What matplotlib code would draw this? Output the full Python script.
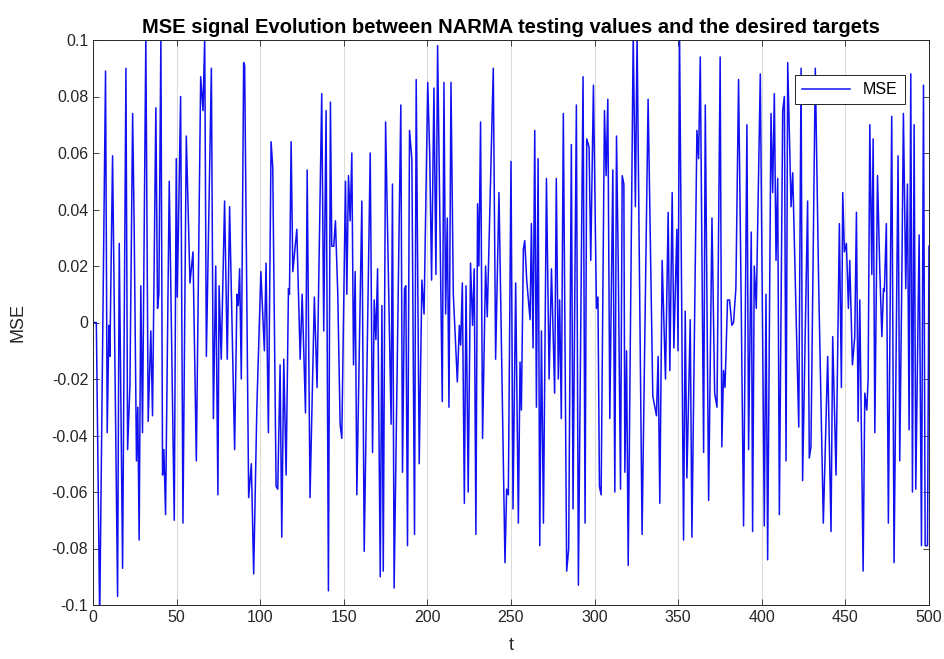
import matplotlib
matplotlib.use("Agg")
import matplotlib.pyplot as plt
import numpy as np

plt.rcParams['font.family'] = ['Liberation Sans', 'DejaVu Sans']

# turning points of the MSE signal (t, value)
t = [0, 2, 4, 7.5, 8.5, 9.5, 10.1, 11.7, 14.7, 15.7, 17.7, 19.7, 20.7, 22.1, 23.7, 24.6, 26, 26.8, 27.6,
     28.6, 29.6, 31.6, 33, 34.6, 35.6, 37.6, 38.6, 39.4, 40.6, 41.6, 42.4, 43.4, 45.6, 48.6, 49.8, 50.4, 52.4,
     53.8, 55.8, 58, 59.8, 61.8, 64.4, 65.8, 66.8, 67.8, 70.8, 72, 73.4, 74.7, 75.4, 76.7, 78.7, 80.3, 81.7,
     84.7, 86.1, 86.9, 87.7, 88.7, 90.1, 90.7, 93.1, 94.7, 96.1, 98, 100.4,
     102.5, 103.5, 104.9, 106.5, 107.5, 109.5, 110.5, 111.9, 112.9, 114.1, 115.5, 116.9, 117.5, 118.5, 119.5,
     121.9, 123.9, 125.1, 127.1, 128.1, 129.8, 132.4, 134, 136.8, 138, 139.4, 140.8, 142, 142.8, 144, 145,
     146.4, 147.8, 148.8, 151,
     151.8, 152.8, 153.8, 154.8, 155.8, 156.8, 157.8, 160.8, 162.2, 165.8, 167.2, 168.2, 169.2, 170.2, 171.8,
     172.8, 173.6, 175, 178.3, 179.1, 180.1, 184.1, 185.1, 186.3, 187.1, 188.1, 189.3, 190.7, 192.3, 193.3,
     195.1, 196.7, 198, 200.2, 201.4,
     202.5, 203.9, 205.1, 206.1, 208.9, 209.9, 210.9, 211.9, 212.9, 214.1, 215.5, 217.9, 219.1, 219.9, 220.9,
     222.1, 223.1, 224.4, 225.8, 227, 228, 229, 230, 230.8, 231.8, 233, 234.8, 235.8, 239.4, 240.8, 242.8,
     246.4, 247.4, 248.4, 250, 251.2,
     252.8, 254.4, 255.4, 256.2, 257.4, 258.2, 259.4, 261.4, 262.2, 263.2, 264.2, 265.2, 266.2, 267.2, 268.2,
     269.4, 271.2, 272.8, 274.2, 276.1, 277.1, 278.3, 279.1, 280.1, 281.3, 283.3, 284.5, 286.1, 287.1, 289.1,
     290.3, 293.1, 294.3, 295.3, 296.7, 297.7, 299.3, 301.1,
     302, 302.9, 303.9, 305.9, 306.9, 307.9, 309.1, 310.9, 312.1, 313.1, 314.1, 315.5, 316.5, 317.5, 318.1,
     319.1, 320.1, 323.1, 324.4, 325.4, 328.4, 332, 334.8, 337, 338, 339, 340.4, 342.4, 344, 345, 346.4,
     347.4, 349.2, 349.9, 350.8,
     353.2, 354.2, 355.2, 357.2, 358.2, 361.2, 362.2, 363.2, 365.2, 366.2, 368.2, 370.2, 371.8, 373.2, 375.1,
     376.1, 377.1, 378, 379.5, 380.7, 382.1, 383.1, 384.5, 386.1, 387.7, 389.1, 391.1, 392.1, 393.7, 394.5,
     395.5, 396.7, 399.1,
     401.5, 402.5, 403.5, 405.5, 406.5, 407.5, 408.5, 409.5, 410.5, 412.5, 413.5, 414.5, 415.5, 417.5, 418.5,
     422.1, 423.5, 424.4, 427.4, 428.4, 429.4, 432, 434, 436.8, 439.4, 441.4, 442.4, 444.4, 446.4, 447.6,
     448.4, 449.4,
     450.6, 451.8, 452.6, 454.2, 455.6, 456.6, 457.6, 458.6, 460.6, 461.6, 462.8, 463.6, 464.6, 465.8, 466.6,
     467.6, 469.2, 470.6, 471.8, 472.8, 473.3, 474.5, 475.7, 477.7, 479.1, 481.5, 482.5, 483.7, 484.7, 486.1,
     487.1, 488.1, 489.1, 490.1, 491.1, 492.1, 494.1, 495.5, 496.7, 497.7, 499.1, 500]

mse = [0.0, 0.0, -0.105, 0.089, -0.039, -0.001, -0.012, 0.059, -0.097, 0.028, -0.087, 0.09, -0.045, -0.022,
       0.074, 0.035, -0.049, -0.03, -0.077,
       0.013, -0.039, 0.101, -0.035, -0.003, -0.033, 0.076, 0.005, 0.01, 0.101, -0.054, -0.045, -0.068, 0.05,
       -0.07, 0.058, 0.009, 0.08,
       -0.071, 0.066, 0.014, 0.025, -0.049, 0.087, 0.075, 0.101, -0.012, 0.09, -0.034, 0.02, -0.061, 0.013,
       -0.013, 0.043, -0.013, 0.041,
       -0.045, 0.01, 0.006, 0.019, -0.02, 0.092, 0.091, -0.062, -0.05, -0.089, -0.03, 0.018,
       -0.01, 0.021, -0.039, 0.064, 0.055, -0.058, -0.059, -0.015, -0.076, -0.013, -0.054, 0.012, 0.01, 0.064,
       0.018, 0.033, -0.013, 0.01, -0.032, 0.054, -0.062, 0.009, -0.023, 0.081, -0.003, 0.075, -0.095, 0.078,
       0.027, 0.027, 0.036, 0.01, -0.036, -0.041, 0.05,
       0.01, 0.052, 0.036, 0.06, -0.015, 0.018, -0.061, 0.043, -0.081, 0.06, -0.046, 0.008, -0.006, 0.019, -0.09,
       0.006, -0.088, 0.071, -0.036, 0.049, -0.094, 0.077, -0.053, 0.012, 0.013, -0.079, 0.068, 0.058, -0.075,
       0.086, -0.05, 0.015, 0.003, 0.085, 0.059,
       0.015, 0.083, 0.017, 0.098, -0.028, 0.085, 0.003, 0.037, -0.03, 0.085, 0.01, -0.021, -0.001, -0.008,
       0.014, -0.064, 0.013, -0.06, 0.021, -0.001, 0.019, -0.075, 0.042, 0.02, 0.071, -0.041, 0.02, 0.002, 0.09,
       -0.013, 0.046, -0.085, -0.059, -0.061, 0.057, -0.066,
       0.014, -0.071, -0.014, -0.031, 0.026, 0.029, 0.015, 0.001, 0.035, -0.009, 0.068, -0.03, 0.058, -0.079,
       -0.003, -0.071, 0.051, -0.02, 0.019, -0.025, 0.051, -0.02, 0.008, -0.034, 0.074, -0.088, -0.08, 0.063,
       -0.066, 0.077, -0.093, 0.087, -0.071, 0.065, 0.062, 0.022, 0.084, 0.005,
       0.009, -0.058, -0.061, 0.075, 0.052, 0.079, -0.034, 0.054, -0.06, 0.066, 0.023, -0.059, 0.052, 0.049,
       -0.053, -0.01, -0.086, 0.102, 0.041, 0.102, -0.075, 0.079, -0.026, -0.033, -0.012, -0.064, 0.022, -0.02,
       0.039, -0.017, 0.046, -0.009, 0.033, -0.01, 0.102,
       -0.077, 0.004, -0.055, 0.001, -0.076, 0.068, 0.058, 0.094, -0.046, 0.077, -0.063, 0.037, -0.025, -0.03,
       0.094, -0.044, -0.017, -0.023, 0.008, 0.008, -0.001, 0.0, 0.012, 0.086, 0.006, -0.072, 0.07, -0.045,
       0.032, -0.074, 0.02, 0.005, 0.088,
       -0.072, 0.01, -0.084, 0.074, 0.046, 0.081, 0.022, 0.051, -0.068, 0.075, 0.08, -0.049, 0.092, 0.041, 0.053,
       -0.037, 0.09, -0.056, 0.043, -0.048, -0.044, 0.09, 0.014, -0.071, -0.012, -0.074, -0.005, -0.054, 0.035,
       -0.023, 0.046, 0.025,
       0.028, 0.005, 0.022, -0.015, -0.005, 0.039, -0.035, 0.008, -0.088, -0.025, -0.031, -0.02, 0.07, 0.017,
       0.065, -0.039, 0.052, 0.018, -0.005, 0.012, 0.011, 0.035, -0.071, 0.073, -0.085, 0.059, -0.049, 0.013,
       0.074, 0.012, 0.049, -0.038, 0.088, -0.06, 0.07, -0.059, 0.031, -0.079, 0.084, -0.079, -0.079, 0.027]

xticks = list(range(0, 501, 50))
yticks = [-0.1, -0.08, -0.06, -0.04, -0.02, 0, 0.02, 0.04, 0.06, 0.08, 0.1]
ylabels = ['-0.1', '-0.08', '-0.06', '-0.04', '-0.02', '0', '0.02', '0.04', '0.06', '0.08', '0.1']

fig = plt.figure(figsize=(9.45, 6.59), dpi=100)
ax = fig.add_axes([93 / 945, 1 - 605 / 659, 836 / 945, 565 / 659])

ax.plot(t, mse, color='#1010f0', lw=1.1, label='MSE')

ax.set_xlim(0, 500)
ax.set_ylim(-0.1, 0.1)
ax.set_xticks(xticks)
ax.set_yticks(yticks)
ax.set_yticklabels(ylabels)
ax.grid(axis='x', color='#dcdcdc', lw=0.8)
ax.tick_params(direction='in', top=True, right=True, length=4, labelsize=11.5,
               colors='#262626', width=0.6)
for s in ax.spines.values():
    s.set_color('#262626')
    s.set_linewidth(0.7)

ax.set_title('MSE signal Evolution between NARMA testing values and the desired targets',
             fontsize=14.5, fontweight='bold', pad=5)
ax.set_xlabel('t', fontsize=13, color='#262626', labelpad=9)
ax.set_ylabel('MSE', fontsize=13, color='#262626', labelpad=18)

leg = ax.legend(loc='upper right', bbox_to_anchor=(0.971, 0.938), fontsize=11.5,
                fancybox=False, edgecolor='#262626', framealpha=1, handlelength=3.0,
                borderpad=0.45, borderaxespad=0)
leg.get_frame().set_linewidth(0.7)

fig.savefig('out.png', dpi=100, facecolor='white')
